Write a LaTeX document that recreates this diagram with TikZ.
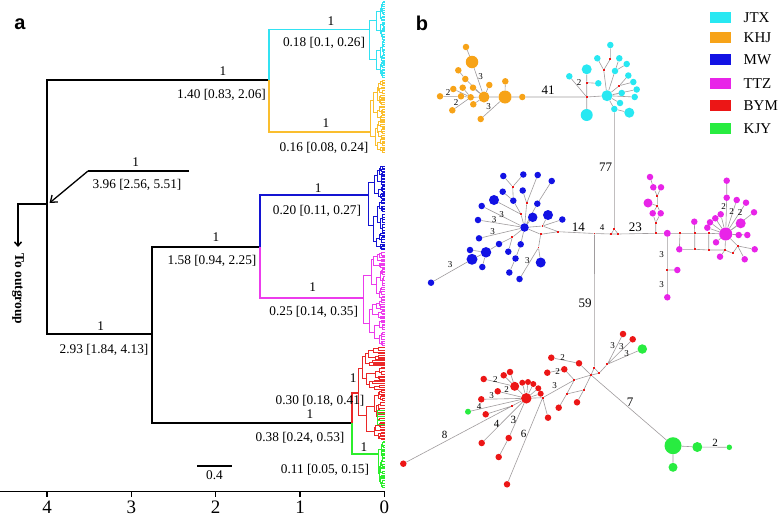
\documentclass[tikz,border=0pt]{standalone}
\usepackage{fontspec}
\setmainfont{Liberation Serif}
\newfontfamily\panelfont{Liberation Sans}
\usetikzlibrary{arrows.meta}
\pgfdeclarelayer{bg}
\pgfsetlayers{bg,main}
\definecolor{cyT}{RGB}{50,226,242}
\definecolor{yeT}{RGB}{250,190,46}
\definecolor{blT}{RGB}{20,20,210}
\definecolor{maT}{RGB}{236,60,236}
\definecolor{reT}{RGB}{234,40,40}
\definecolor{grT}{RGB}{44,238,44}
\definecolor{cyN}{RGB}{40,232,242}
\definecolor{orN}{RGB}{247,163,24}
\definecolor{blN}{RGB}{18,18,228}
\definecolor{maN}{RGB}{232,36,232}
\definecolor{reN}{RGB}{236,22,22}
\definecolor{grN}{RGB}{40,236,64}
\definecolor{edgeC}{RGB}{160,156,158}
\tikzset{
 hap/.style={circle, inner sep=0pt, draw=none},
 jn/.style={rectangle, inner sep=0pt, minimum size=1.8pt, fill=reN},
 netline/.style={draw=edgeC, line width=0.6pt},
 blk/.style={line width=1.5pt, black, line join=miter},
 cladeln/.style={line width=1.7pt, line join=miter},
 sublw/.style={line width=1pt, line cap=rect},
 tlab/.style={font=\fontsize{13.3}{14}\selectfont, inner sep=0pt, text height=9pt, text depth=0pt},
 axlab/.style={font=\fontsize{19}{20}\selectfont, inner sep=0pt, text height=12.8pt, text depth=0pt},
 biglab/.style={font=\fontsize{13}{13}\selectfont, inner sep=0pt, text height=8.8pt, text depth=0pt},
 midlab/.style={font=\fontsize{11}{11}\selectfont, inner sep=0pt, text height=7.5pt, text depth=0pt},
 smlab/.style={font=\fontsize{9}{9}\selectfont, inner sep=0pt, text height=6.1pt, text depth=0pt},
 legbox/.style={rectangle, inner sep=0pt, minimum width=20.5pt, minimum height=11pt},
 legtxt/.style={font=\fontsize{15}{15}\selectfont, inner sep=0pt, anchor=west, text height=10pt, text depth=0pt},
 panlab/.style={font=\panelfont\bfseries\fontsize{20}{20}\selectfont, inner sep=0pt},
}
\newcommand\hapnode[5]{\node[hap, minimum size=#4pt, fill=#5] (#1) at (#2,#3) {};}
\newcommand\junc[3]{\node[jn] (#1) at (#2,#3) {};}
\newcommand\mysubtree[6]{%
  \begingroup
  \pgfmathsetmacro\mya{(#2+#3)/2}%
  \pgfmathsetmacro\myb{(#3+#4)/2}%
  \draw[sublw,#6] (#1,\mya) -- (#1,\myb);%
  \mychild{#1}{#2}{#3}{#5}{#6}%
  \mychild{#1}{#3}{#4}{#5}{#6}%
  \endgroup}
\newcommand\mychild[5]{%
  \begingroup
  \pgfmathsetmacro\mym{(#2+#3)/2}%
  \pgfmathtruncatemacro\mydd{#4-1}%
  \pgfmathsetmacro\myspn{#3-#2}%
  \def\mytip{0}%
  \ifdim\myspn pt<2pt \def\mytip{1}\fi
  \ifnum\mydd<1 \def\mytip{1}\fi
  \ifnum\mytip=1
    \draw[sublw,#5] (#1,\mym) -- (384,\mym);%
  \else
    \pgfmathsetmacro\mycx{#1+(384-#1)*(0.12+0.45*rnd)}%
    \pgfmathsetmacro\mycc{#2+(#3-#2)*(0.3+0.4*rnd)}%
    \draw[sublw,#5] (#1,\mym) -- (\mycx,\mym);%
    \edef\mynext{\noexpand\mysubtree{\mycx}{#2}{\mycc}{#3}{\mydd}{#5}}%
    \mynext
  \fi
  \endgroup}
\begin{document}
\begin{tikzpicture}[x=1pt,y=-1pt]
\useasboundingbox (0,0) rectangle (778,517);
\begin{pgfonlayer}{bg}
\fill[white] (0,0) rectangle (778,517);
\end{pgfonlayer}
\pgfmathsetseed{4217}
% ---------------- panel a ----------------
\node[panlab] (pa) at (20,24) {a};
\draw[blk] (269,80) -- (47,80) -- (47,334) -- (152,334);
\draw[blk] (260,247) -- (152,247) -- (152,423) -- (352,423);
\draw[blk,-{Straight Barb[length=4pt,width=7pt]}] (47,204) -- (18,204) -- (18,247);
\draw[blk] (189,171) -- (88,171);
\draw[line width=1.3pt,-{Straight Barb[length=6pt,width=9pt]}] (88,171) -- (49.5,203);
\node[rotate=-90, font=\bfseries\fontsize{13.5}{14}\selectfont, inner sep=0pt] (og) at (18,289) {To outgroup};
% clades
\draw[cladeln,cyT] (269,80) -- (269,29.5) -- (369,29.5);
\draw[cladeln,yeT] (269,80) -- (269,131.7) -- (370,131.7);
\draw[cladeln,blT] (260,247) -- (260,195) -- (368,195);
\draw[cladeln,maT] (260,247) -- (260,298) -- (363,298);
\draw[cladeln,reT] (352,423) -- (352,393) -- (358,393);
\draw[cladeln,grT] (352,423) -- (352,454) -- (378,454);
\mysubtree{369}{1}{40}{78}{6}{cyT}
\mysubtree{370}{80}{120}{153}{6}{yeT}
\mysubtree{368}{165}{200}{250}{6}{blT}
\mysubtree{363}{251}{300}{346}{6}{maT}
\mysubtree{358}{346}{390}{440}{6}{reT}
\mysubtree{378}{441}{458}{488}{5}{grT}
\draw[sublw,grT] (377,410) -- (377,424);
\foreach \yy in {410,413,416.5,420.5,424} {\draw[sublw,grT] (377,\yy) -- (384,\yy);}
% axis
\draw[line width=1.3pt] (0,491.5) -- (385,491.5);
\foreach \xx/\ll in {47/4,131.3/3,215.7/2,300/1,384.3/0} {
  \draw[line width=1.3pt] (\xx,491.5) -- (\xx,497);
  \node[axlab] (tk\ll) at (\xx,507.5) {\ll};
}
\draw[blk] (197,466) -- (232,466);
\node[tlab] (scl) at (214.5,475) {0.4};
% tree labels
\node[tlab] (a1) at (223,71) {1};
\node[tlab] (a2) at (221.5,94) {1.40 [0.83, 2.06]};
\node[tlab] (a3) at (331,20.7) {1};
\node[tlab] (a4) at (324,42.3) {0.18 [0.1, 0.26]};
\node[tlab] (a5) at (326,122.7) {1};
\node[tlab] (a6) at (324,146.7) {0.16 [0.08, 0.24]};
\node[tlab] (a7) at (135.7,162.3) {1};
\node[tlab] (a8) at (137,184.3) {3.96 [2.56, 5.51]};
\node[tlab] (a9) at (318.3,187.7) {1};
\node[tlab] (a10) at (317,210) {0.20 [0.11, 0.27]};
\node[tlab] (a11) at (216,236.7) {1};
\node[tlab] (a12) at (212,260) {1.58 [0.94, 2.25]};
\node[tlab] (a13) at (312.7,286.7) {1};
\node[tlab] (a14) at (313.7,311) {0.25 [0.14, 0.35]};
\node[tlab] (a15) at (100.7,326) {1};
\node[tlab] (a16) at (104,349.3) {2.93 [1.84, 4.13]};
\node[tlab] (a17) at (353.3,377.7) {1};
\node[tlab] (a18) at (320,400) {0.30 [0.18, 0.41]};
\node[tlab] (a19) at (310,414.3) {1};
\node[tlab] (a20) at (300,437.3) {0.38 [0.24, 0.53]};
\node[tlab] (a21) at (364,446.7) {1};
\node[tlab] (a22) at (325,469.3) {0.11 [0.05, 0.15]};
% ---------------- panel b ----------------
\node[panlab] (pb) at (422,23) {b};
% legend
\node[legbox,fill=cyN] (k1) at (720.5,17.2) {};
\node[legbox,fill=orN] (k2) at (720.5,37.8) {};
\node[legbox,fill=blN] (k3) at (720.5,59.7) {};
\node[legbox,fill=maN] (k4) at (720.5,83.3) {};
\node[legbox,fill=reN] (k5) at (720.5,105.8) {};
\node[legbox,fill=grN] (k6) at (720.5,128) {};
\node[legtxt] (t1) at (743.5,17.2) {JTX};
\node[legtxt] (t2) at (743.5,37.8) {KHJ};
\node[legtxt] (t3) at (743.5,59.7) {MW};
\node[legtxt] (t4) at (743.5,83.3) {TTZ};
\node[legtxt] (t5) at (743.5,105.8) {BYM};
\node[legtxt] (t6) at (743.5,128) {KJY};
% orange
\hapnode{o1}{466}{47}{6.5}{orN}
\hapnode{o2}{472}{62}{12.5}{orN}
\hapnode{o3}{484}{97}{11}{orN}
\hapnode{o4}{505}{97}{13}{orN}
\hapnode{o5}{505.3}{81.3}{6.5}{orN}
\hapnode{o6}{522.3}{97}{6.5}{orN}
\hapnode{o7}{489.3}{85}{6.5}{orN}
\hapnode{o8}{473}{87.7}{6.5}{orN}
\hapnode{o9}{465.3}{79}{6.5}{orN}
\hapnode{o10}{458.3}{70.3}{6.5}{orN}
\hapnode{o11}{470.7}{97.3}{6.5}{orN}
\hapnode{o12}{461}{96.3}{6.5}{orN}
\hapnode{o13}{453.3}{89}{6.5}{orN}
\hapnode{o14}{462.7}{87.7}{6.5}{orN}
\hapnode{o15}{440}{96.3}{6.5}{orN}
\hapnode{o16}{473.3}{104.3}{6.5}{orN}
\hapnode{o17}{452.3}{110.3}{6.5}{orN}
\hapnode{o18}{480.7}{119}{6.5}{orN}
% cyan
\junc{cj}{586.7}{97}
\junc{cr1}{586.7}{82.7}
\hapnode{c1}{586.7}{69.3}{10}{cyN}
\hapnode{c2}{586.7}{115}{12}{cyN}
\hapnode{c3}{598.3}{83.3}{6.5}{cyN}
\hapnode{c4}{569.3}{76.3}{6.5}{cyN}
\hapnode{ch}{607}{95.7}{11}{cyN}
\junc{cr2}{603.7}{70}
\hapnode{c5}{597.3}{58.3}{6.5}{cyN}
\junc{cr3}{610.3}{59}
\hapnode{c6}{610.3}{45}{6.5}{cyN}
\hapnode{c7}{619.3}{58.3}{6.5}{cyN}
\hapnode{c8}{615}{71}{6.5}{cyN}
\hapnode{c9}{626.7}{64}{6.5}{cyN}
\junc{cr4}{619.3}{85.7}
\hapnode{c10}{628.3}{75.5}{6.5}{cyN}
\hapnode{c11}{633.3}{82}{6.5}{cyN}
\hapnode{c12}{636.7}{89.5}{6.5}{cyN}
\hapnode{c13}{634.7}{97}{6.5}{cyN}
\hapnode{c14}{621.7}{93}{6.5}{cyN}
\hapnode{c15}{620}{103}{6.5}{cyN}
\hapnode{c16}{614.3}{109}{6.5}{cyN}
\hapnode{c17}{629.3}{112.7}{10}{cyN}
% trunk
\junc{t0}{614.3}{229.3}
\junc{tl}{611}{234}
\junc{tr}{618.3}{234}
\junc{j59}{594.5}{233.5}
\junc{m0}{655.7}{233.3}
\junc{br0}{558.3}{231.7}
% blue
\hapnode{bh}{524.5}{227.5}{8.5}{blN}
\junc{br1}{542.5}{226}
\junc{br2}{540.7}{234.3}
\hapnode{b1}{562.3}{219.5}{6.5}{blN}
\hapnode{b2}{532.7}{217.3}{9.5}{blN}
\hapnode{b3}{548}{215}{10}{blN}
\hapnode{b4}{537.3}{203.7}{6.5}{blN}
\hapnode{b5}{551.7}{181}{6.5}{blN}
\junc{bra}{521}{214.3}
\hapnode{b6}{513.3}{200.7}{6.5}{blN}
\junc{brb}{512.7}{186.7}
\hapnode{b7}{503.3}{176}{6.5}{blN}
\hapnode{b8}{523.3}{174.5}{6.5}{blN}
\hapnode{b9}{502.7}{191.7}{6.5}{blN}
\junc{brc}{526.7}{203.3}
\hapnode{b10}{522.7}{190.5}{6.5}{blN}
\hapnode{b11}{537.7}{175}{6.5}{blN}
\hapnode{b12}{494}{200}{10}{blN}
\hapnode{b13}{481.7}{206}{6.5}{blN}
\hapnode{b14}{478}{220}{6.5}{blN}
\hapnode{b15}{479}{238.3}{6.5}{blN}
\junc{brd}{512.3}{237.3}
\hapnode{b16}{499}{244}{6.5}{blN}
\hapnode{b17}{486}{252.3}{10.5}{blN}
\hapnode{b18}{470}{250}{6.5}{blN}
\hapnode{b19}{482.3}{267}{6.5}{blN}
\hapnode{b20}{472}{259.3}{11}{blN}
\hapnode{b21}{431}{282.7}{6.5}{blN}
\hapnode{b22}{508.3}{251.7}{6.5}{blN}
\hapnode{b23}{520.7}{244.3}{6.5}{blN}
\hapnode{b24}{515.5}{258.5}{6.5}{blN}
\hapnode{b25}{509.3}{272.5}{6.5}{blN}
\junc{bre}{538.5}{247.5}
\hapnode{b26}{540.7}{262.5}{10}{blN}
\hapnode{b27}{519.5}{279}{6.5}{blN}
% magenta
\junc{mr1}{655.7}{222.7}
\hapnode{m1}{652.7}{213.3}{6.5}{maN}
\hapnode{m2}{660.7}{213.3}{6.5}{maN}
\junc{mr2}{657.3}{205.7}
\hapnode{m3}{648}{203}{9}{maN}
\junc{mr3}{657.3}{196}
\hapnode{m4}{653.3}{187.3}{6.5}{maN}
\hapnode{m5}{661}{187.3}{6.5}{maN}
\hapnode{m6}{650}{177}{6.5}{maN}
\hapnode{ma}{667.3}{233.3}{7}{maN}
\junc{mr4}{667.3}{270}
\hapnode{m7}{677.3}{270}{6.5}{maN}
\hapnode{m8}{667.3}{297.3}{6.5}{maN}
\junc{mr5}{680}{233.3}
\hapnode{m9}{679.3}{249.3}{6.5}{maN}
\junc{mr6}{694.7}{233.3}
\hapnode{m10}{694.3}{221.7}{6.5}{maN}
\junc{mr7}{694.7}{249.3}
\junc{mr8}{708.7}{233.3}
\junc{mr9}{708.7}{250}
\hapnode{mh}{725.7}{234}{13}{maN}
\junc{mr10}{725}{250}
\junc{mr11}{732.7}{253.3}
\junc{mr12}{737.7}{246}
\hapnode{m11}{720}{256.7}{6.5}{maN}
\hapnode{m12}{716}{242.3}{6.5}{maN}
\hapnode{m13}{707.3}{227.7}{6.5}{maN}
\hapnode{m14}{710}{222.3}{6.5}{maN}
\hapnode{m15}{715.3}{218.3}{6.5}{maN}
\hapnode{m16}{720.7}{214.3}{6.5}{maN}
\hapnode{m17}{726.7}{197.7}{6.5}{maN}
\hapnode{m18}{726.7}{180.7}{6.5}{maN}
\hapnode{m19}{736.7}{200}{6.5}{maN}
\hapnode{m20}{746}{202.7}{6.5}{maN}
\hapnode{m21}{754}{212.3}{6.5}{maN}
\hapnode{m22}{740.7}{223.3}{10}{maN}
\hapnode{m23}{738.7}{235}{6.5}{maN}
\hapnode{m24}{747.3}{235}{6.5}{maN}
\hapnode{m25}{754.7}{249.3}{6.5}{maN}
\hapnode{m26}{744.7}{259.3}{6.5}{maN}
% red and green
\junc{s0}{594.3}{367.7}
\junc{sl}{591}{375}
\junc{sr}{599}{373.3}
\junc{sr1}{607.3}{364.3}
\hapnode{r1}{623}{334}{6.5}{reN}
\hapnode{r2}{632.7}{339.3}{6.5}{reN}
\hapnode{g1}{642.3}{349}{9.5}{grN}
\hapnode{r3}{579}{363.3}{6.5}{reN}
\hapnode{r4}{551.3}{357.7}{6.5}{reN}
\hapnode{gb}{673}{445.7}{17}{grN}
\hapnode{g2}{697.3}{447}{10}{grN}
\hapnode{g3}{729.3}{447.3}{5.5}{grN}
\hapnode{g4}{673}{467.3}{9}{grN}
\junc{sr2}{574.3}{380}
\hapnode{r5}{564.3}{369.3}{6.5}{reN}
\hapnode{r6}{547.3}{372.7}{6.5}{reN}
\junc{sr3}{566.7}{394}
\junc{sr4}{583.7}{390}
\hapnode{r7}{577}{402.3}{6.5}{reN}
\hapnode{r8}{558.7}{407.7}{6.5}{reN}
\junc{sr5}{542.7}{397.7}
\hapnode{rh}{526.3}{398.3}{10.5}{reN}
\hapnode{r9}{548}{417.7}{6.5}{reN}
\hapnode{r10}{507}{484.3}{6.5}{reN}
\hapnode{r11}{514.7}{386.3}{9}{reN}
\hapnode{r12}{483.7}{379}{6.5}{reN}
\hapnode{r13}{510}{372}{6.5}{reN}
\hapnode{r14}{503.7}{375.3}{6.5}{reN}
\hapnode{r15}{497.7}{391.3}{6.5}{reN}
\hapnode{r16}{522.3}{382.7}{6}{reN}
\hapnode{r17}{528}{382}{6}{reN}
\hapnode{r18}{533.3}{384}{6}{reN}
\hapnode{r19}{538.3}{388.3}{6}{reN}
\hapnode{r20}{540.7}{393.7}{6}{reN}
\hapnode{r21}{481.3}{399.3}{6.5}{reN}
\hapnode{g5}{468}{411.7}{6}{grN}
\hapnode{r22}{485.7}{414.3}{6.5}{reN}
\junc{sr6}{512}{406}
\hapnode{r23}{403.3}{463.7}{6.5}{reN}
\hapnode{r24}{481.7}{443}{6.5}{reN}
\hapnode{r25}{508.7}{438}{6.5}{reN}
\hapnode{r26}{498.7}{457}{6.5}{reN}
% connectors
\begin{pgfonlayer}{bg}
\draw[netline] (o1)--(o2) (o2)--(o3) (o3)--(o4) (o4)--(o5) (o4)--(o6) (o4)--(o18)
  (o3)--(o7) (o3)--(o8) (o9)--(o3) (o10)--(o9) (o3)--(o11) (o3)--(o16)
  (o11)--(o12) (o11)--(o13) (o11)--(o14) (o12)--(o15) (o11)--(o17) (o6)--(cj);
\draw[netline] (cj)--(cr1) (cr1)--(c1) (cr1)--(c3) (cj)--(c2) (cj)--(c4) (cj)--(ch)
  (ch)--(cr2) (cr2)--(c5) (cr2)--(cr3) (cr3)--(c6) (ch)--(c8) (c8)--(c7) (c8)--(c9)
  (ch)--(cr4) (cr4)--(c10) (cr4)--(c11) (ch)--(c12) (ch)--(c13) (ch)--(c14)
  (ch)--(c15) (ch)--(c16) (c16)--(c17);
\draw[netline] (c16)--(t0) (t0)--(tl) (t0)--(tr) (tl)--(tr) (j59)--(tl) (tr)--(m0)
  (br0)--(j59) (j59)--(s0);
\draw[netline] (bh)--(br1) (bh)--(br2) (br1)--(br0) (br2)--(br0) (br1)--(b1) (bh)--(b2)
  (br1)--(b3) (bh)--(b4) (b4)--(b5) (bh)--(bra) (bra)--(b6) (b6)--(brb) (brb)--(b7)
  (brb)--(b8) (b9)--(b6) (bh)--(brc) (brc)--(b10) (brc)--(b11) (bra)--(b12)
  (bh)--(b13) (bh)--(b14) (bh)--(b15) (bh)--(brd) (brd)--(b16) (b16)--(b17)
  (b17)--(b18) (b17)--(b19) (b17)--(b20) (b20)--(b21) (brd)--(b22) (bh)--(b23)
  (b23)--(b24) (b24)--(b25) (br2)--(bre) (bre)--(b26) (bre)--(b27);
\draw[netline] (m0)--(mr1) (mr1)--(m1) (mr1)--(m2) (m1)--(mr2) (m2)--(mr2) (mr2)--(m3)
  (mr2)--(mr3) (mr3)--(m4) (mr3)--(m5) (m4)--(m6) (m0)--(ma) (ma)--(mr4) (mr4)--(m7)
  (mr4)--(m8) (ma)--(mr5) (mr5)--(mr6) (mr6)--(mr8) (mr8)--(mh) (mr5)--(m9)
  (m9)--(mr7) (mr6)--(mr7) (mr6)--(m10) (mr7)--(mr9) (mr8)--(mr9) (mr9)--(mr10)
  (mr10)--(mh) (mr10)--(m11) (mr10)--(mr11) (mr11)--(mr12) (mr12)--(m25)
  (mr12)--(m26) (mr12)--(mh) (mh)--(m12) (mh)--(m13) (mh)--(m14) (mh)--(m15)
  (mh)--(m16) (mh)--(m17) (m17)--(m18) (mh)--(m19) (mh)--(m20) (mh)--(m21)
  (mh)--(m22) (mh)--(m23) (mh)--(m24);
\draw[netline] (s0)--(sl) (s0)--(sr) (sl)--(sr) (sr)--(sr1) (sr1)--(r1) (sr1)--(r2)
  (sr1)--(g1) (sl)--(r3) (r3)--(r4) (sl)--(gb) (gb)--(g2) (g2)--(g3) (gb)--(g4)
  (sl)--(sr2) (sr2)--(r5) (r5)--(r6) (sr2)--(sr3) (sr3)--(r8) (sr3)--(sr4)
  (sr4)--(r7) (sr4)--(sl) (sr2)--(sr5) (sr5)--(rh) (sr5)--(r9) (sr5)--(r10)
  (rh)--(r11) (r11)--(r12) (r11)--(r13) (r11)--(r14) (rh)--(r15) (rh)--(r16)
  (rh)--(r17) (rh)--(r18) (rh)--(r19) (rh)--(r20) (rh)--(r21) (rh)--(g5)
  (rh)--(sr6) (sr6)--(r22) (sr6)--(r23) (rh)--(r24) (rh)--(r25) (r25)--(r26);
\end{pgfonlayer}
% network labels
\node[biglab] (n41) at (548,90) {41};
\node[biglab] (n77) at (605.7,166.7) {77};
\node[biglab] (n14) at (578.3,226.7) {14};
\node[smlab] (n4) at (602,227.7) {4};
\node[biglab] (n23) at (635.3,226.7) {23};
\node[biglab] (n59) at (585,303.3) {59};
\node[biglab] (n7) at (630,401.7) {7};
\node[smlab] (lo1) at (480.7,76.7) {3};
\node[smlab] (lo2) at (448,92.3) {2};
\node[smlab] (lo3) at (456,102.7) {2};
\node[smlab] (lo4) at (488.7,106.7) {3};
\node[smlab] (lc1) at (579,82.7) {2};
\node[smlab] (lb1) at (501.7,214) {3};
\node[smlab] (lb2) at (494,219) {3};
\node[smlab] (lb3) at (492.7,231) {3};
\node[smlab] (lb4) at (450,264.3) {3};
\node[smlab] (lb5) at (527.3,260.7) {3};
\node[smlab] (lm1) at (661.7,254.3) {3};
\node[smlab] (lm2) at (661.7,284.3) {3};
\node[smlab] (lm3) at (723.7,206.3) {2};
\node[smlab] (lm4) at (731.7,211) {2};
\node[smlab] (lm5) at (740,212.3) {2};
\node[smlab] (lr1) at (612.7,345) {3};
\node[smlab] (lr2) at (621.3,346.7) {3};
\node[smlab] (lr3) at (626.7,353) {3};
\node[smlab] (lr4) at (562.7,357.7) {2};
\node[smlab] (lr5) at (557.7,371.7) {2};
\node[smlab] (lr6) at (554.7,385.7) {3};
\node[smlab] (lr7) at (495.3,379.7) {2};
\node[smlab] (lr8) at (506.7,389.7) {2};
\node[smlab] (lr9) at (491.7,395.7) {3};
\node[smlab] (lr10) at (479,406) {4};
\node[midlab] (lr11) at (444.7,434.3) {8};
\node[midlab] (lr12) at (496.7,423.3) {4};
\node[midlab] (lr13) at (513.3,420) {3};
\node[midlab] (lr14) at (523.7,433.3) {6};
\node[midlab] (lg1) at (715,442.7) {2};
\end{tikzpicture}
\end{document}
